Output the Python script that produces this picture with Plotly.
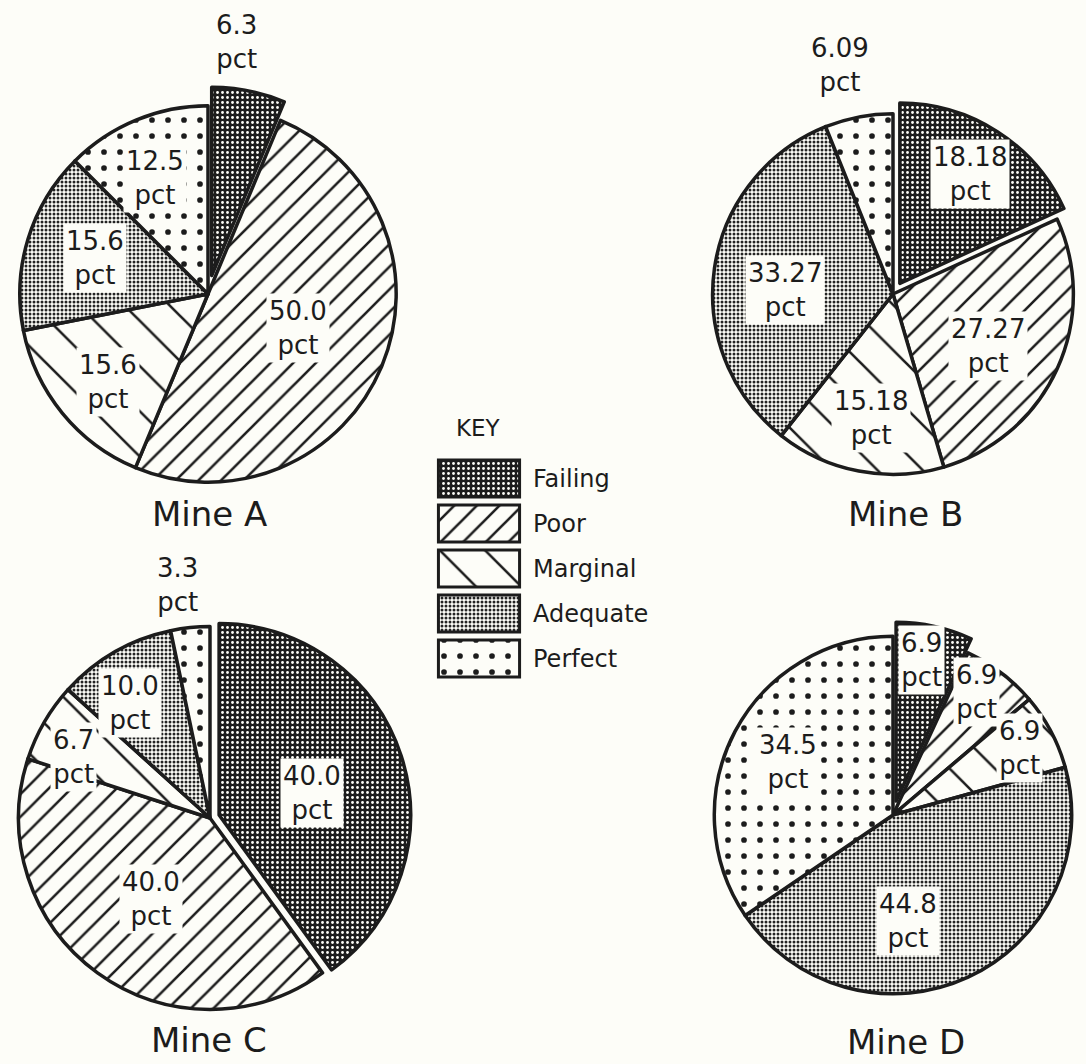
import math
import plotly.graph_objects as go

# ---------------- data ----------------
categories = ["Failing", "Poor", "Marginal", "Adequate", "Perfect"]
mine_names = ["Mine A", "Mine B", "Mine C", "Mine D"]
mine_a = [6.3, 50.0, 15.6, 15.6, 12.5]
mine_b = [18.18, 27.27, 15.18, 33.27, 6.09]
mine_c = [40.0, 40.0, 6.7, 10.0, 3.3]
mine_d = [6.9, 6.9, 6.9, 44.8, 34.5]
decimals = [1, 2, 1, 1]
key_values = [1, 1, 1, 1, 1]

# ---------------- layout / style ----------------
W, H = 1086, 1064
PAPER = "#fdfdf8"
INK = "#1c1c1c"
FONT = "DejaVu Sans"

# pie geometry (pixels): center x, center y, half box size, pull of first slice
pie_layout = [
    dict(cx=208, cy=294, half=207, pull=0.10, title_xy=(209, 514),
         frac=[1.25, 0.51, 0.71, 0.63, 0.68], nudge=[-5, -2, -2, 1, -2],
         boxed=[False, True, True, True, True]),
    dict(cx=893, cy=294, half=193, pull=0.07, title_xy=(905, 514),
         frac=[0.72, 0.60, 0.70, 0.60, 1.30], nudge=[0, 4, -1, -6, -2],
         boxed=[True, True, True, True, False]),
    dict(cx=210, cy=818, half=201, pull=0.05, title_xy=(209, 1040),
         frac=[0.50, 0.52, 0.78, 0.73, 1.23], nudge=[4, 0, -6, -5, -2],
         boxed=[True, True, True, True, False]),
    dict(cx=893, cy=815, half=193, pull=0.08, title_xy=(906, 1042),
         frac=[0.80, 0.83, 0.80, 0.60, 0.66], nudge=[-2, -3, 0, 17, -1],
         boxed=[True, True, True, True, True]),
]

# fill patterns per category (Failing, Poor, Marginal, Adequate, Perfect)
pat_shape = [".", "/", "\\", ".", "."]
pat_bg = [INK, PAPER, PAPER, PAPER, PAPER]
pat_fg = [PAPER, INK, INK, "#222222", INK]
pat_size = [5, 16, 32, 4, 16]
pat_solid = [0.25, 0.16, 0.08, 0.45, 0.1]


def make_pattern():
    return dict(shape=pat_shape, bgcolor=pat_bg, fgcolor=pat_fg,
                size=pat_size, solidity=pat_solid, fillmode="replace")


def ann(px, py, text, size, bg="rgba(0,0,0,0)"):
    return dict(x=px / W, y=1 - py / H, xref="paper", yref="paper",
                xanchor="center", yanchor="middle",
                text=text, showarrow=False, align="center",
                font=dict(family=FONT, size=size, color=INK),
                bgcolor=bg, borderpad=2)


fig = go.Figure()
annotations = []
all_values = [mine_a, mine_b, mine_c, mine_d]

for name, vals, dec, lay in zip(mine_names, all_values, decimals, pie_layout):
    cx, cy, half, pull = lay["cx"], lay["cy"], lay["half"], lay["pull"]
    dom_x = [max(0.0, (cx - half) / W), min(1.0, (cx + half) / W)]
    dom_y = [max(0.0, 1 - (cy + half) / H), min(1.0, 1 - (cy - half) / H)]
    fig.add_trace(go.Pie(
        labels=categories, values=vals, sort=False, direction="clockwise",
        rotation=0, pull=[pull, 0, 0, 0, 0], textinfo="none",
        hoverinfo="label+value", showlegend=False,
        domain=dict(x=dom_x, y=dom_y),
        marker=dict(line=dict(color=INK, width=3.5), pattern=make_pattern()),
    ))
    r = half / (1 + pull)
    total = sum(vals)
    start = 0.0
    for i, v in enumerate(vals):
        mid = (start + v / 2) / total * 360 + lay["nudge"][i]
        start += v
        dist = (lay["frac"][i] + (pull if i == 0 else 0)) * r
        px = cx + dist * math.sin(math.radians(mid))
        py = cy - dist * math.cos(math.radians(mid))
        annotations.append(ann(px, py, f"{v:.{dec}f}<br>pct", 26,
                               PAPER if lay["boxed"][i] else "rgba(0,0,0,0)"))
    tx, ty = lay["title_xy"]
    annotations.append(ann(tx, ty, name, 34))

# ---------------- key (bar swatches) ----------------
fig.add_trace(go.Bar(
    y=categories, x=key_values, orientation="h", width=0.82,
    marker=dict(color=PAPER, line=dict(color=INK, width=3), pattern=make_pattern()),
    xaxis="x", yaxis="y", showlegend=False, hoverinfo="y",
))

annotations.append(ann(478, 428, "KEY", 23))

key_top, key_step = 456, 45
fig.update_layout(
    width=W, height=H,
    margin=dict(l=0, r=0, t=0, b=0),
    paper_bgcolor=PAPER, plot_bgcolor="rgba(0,0,0,0)",
    annotations=annotations,
    xaxis=dict(domain=[436 / W, 522 / W], range=[-0.03, 1.03], visible=False, fixedrange=True),
    yaxis=dict(domain=[1 - (key_top + 5 * key_step) / H, 1 - key_top / H],
               type="category", autorange="reversed", side="right",
               showgrid=False, zeroline=False, showline=False, ticks="",
               ticklabelstandoff=10,
               tickfont=dict(family=FONT, size=24, color=INK), fixedrange=True),
)

fig.write_html("out.html", config={"displayModeBar": False},
               post_script="document.body.style.margin='0';document.body.style.overflow='hidden';")
